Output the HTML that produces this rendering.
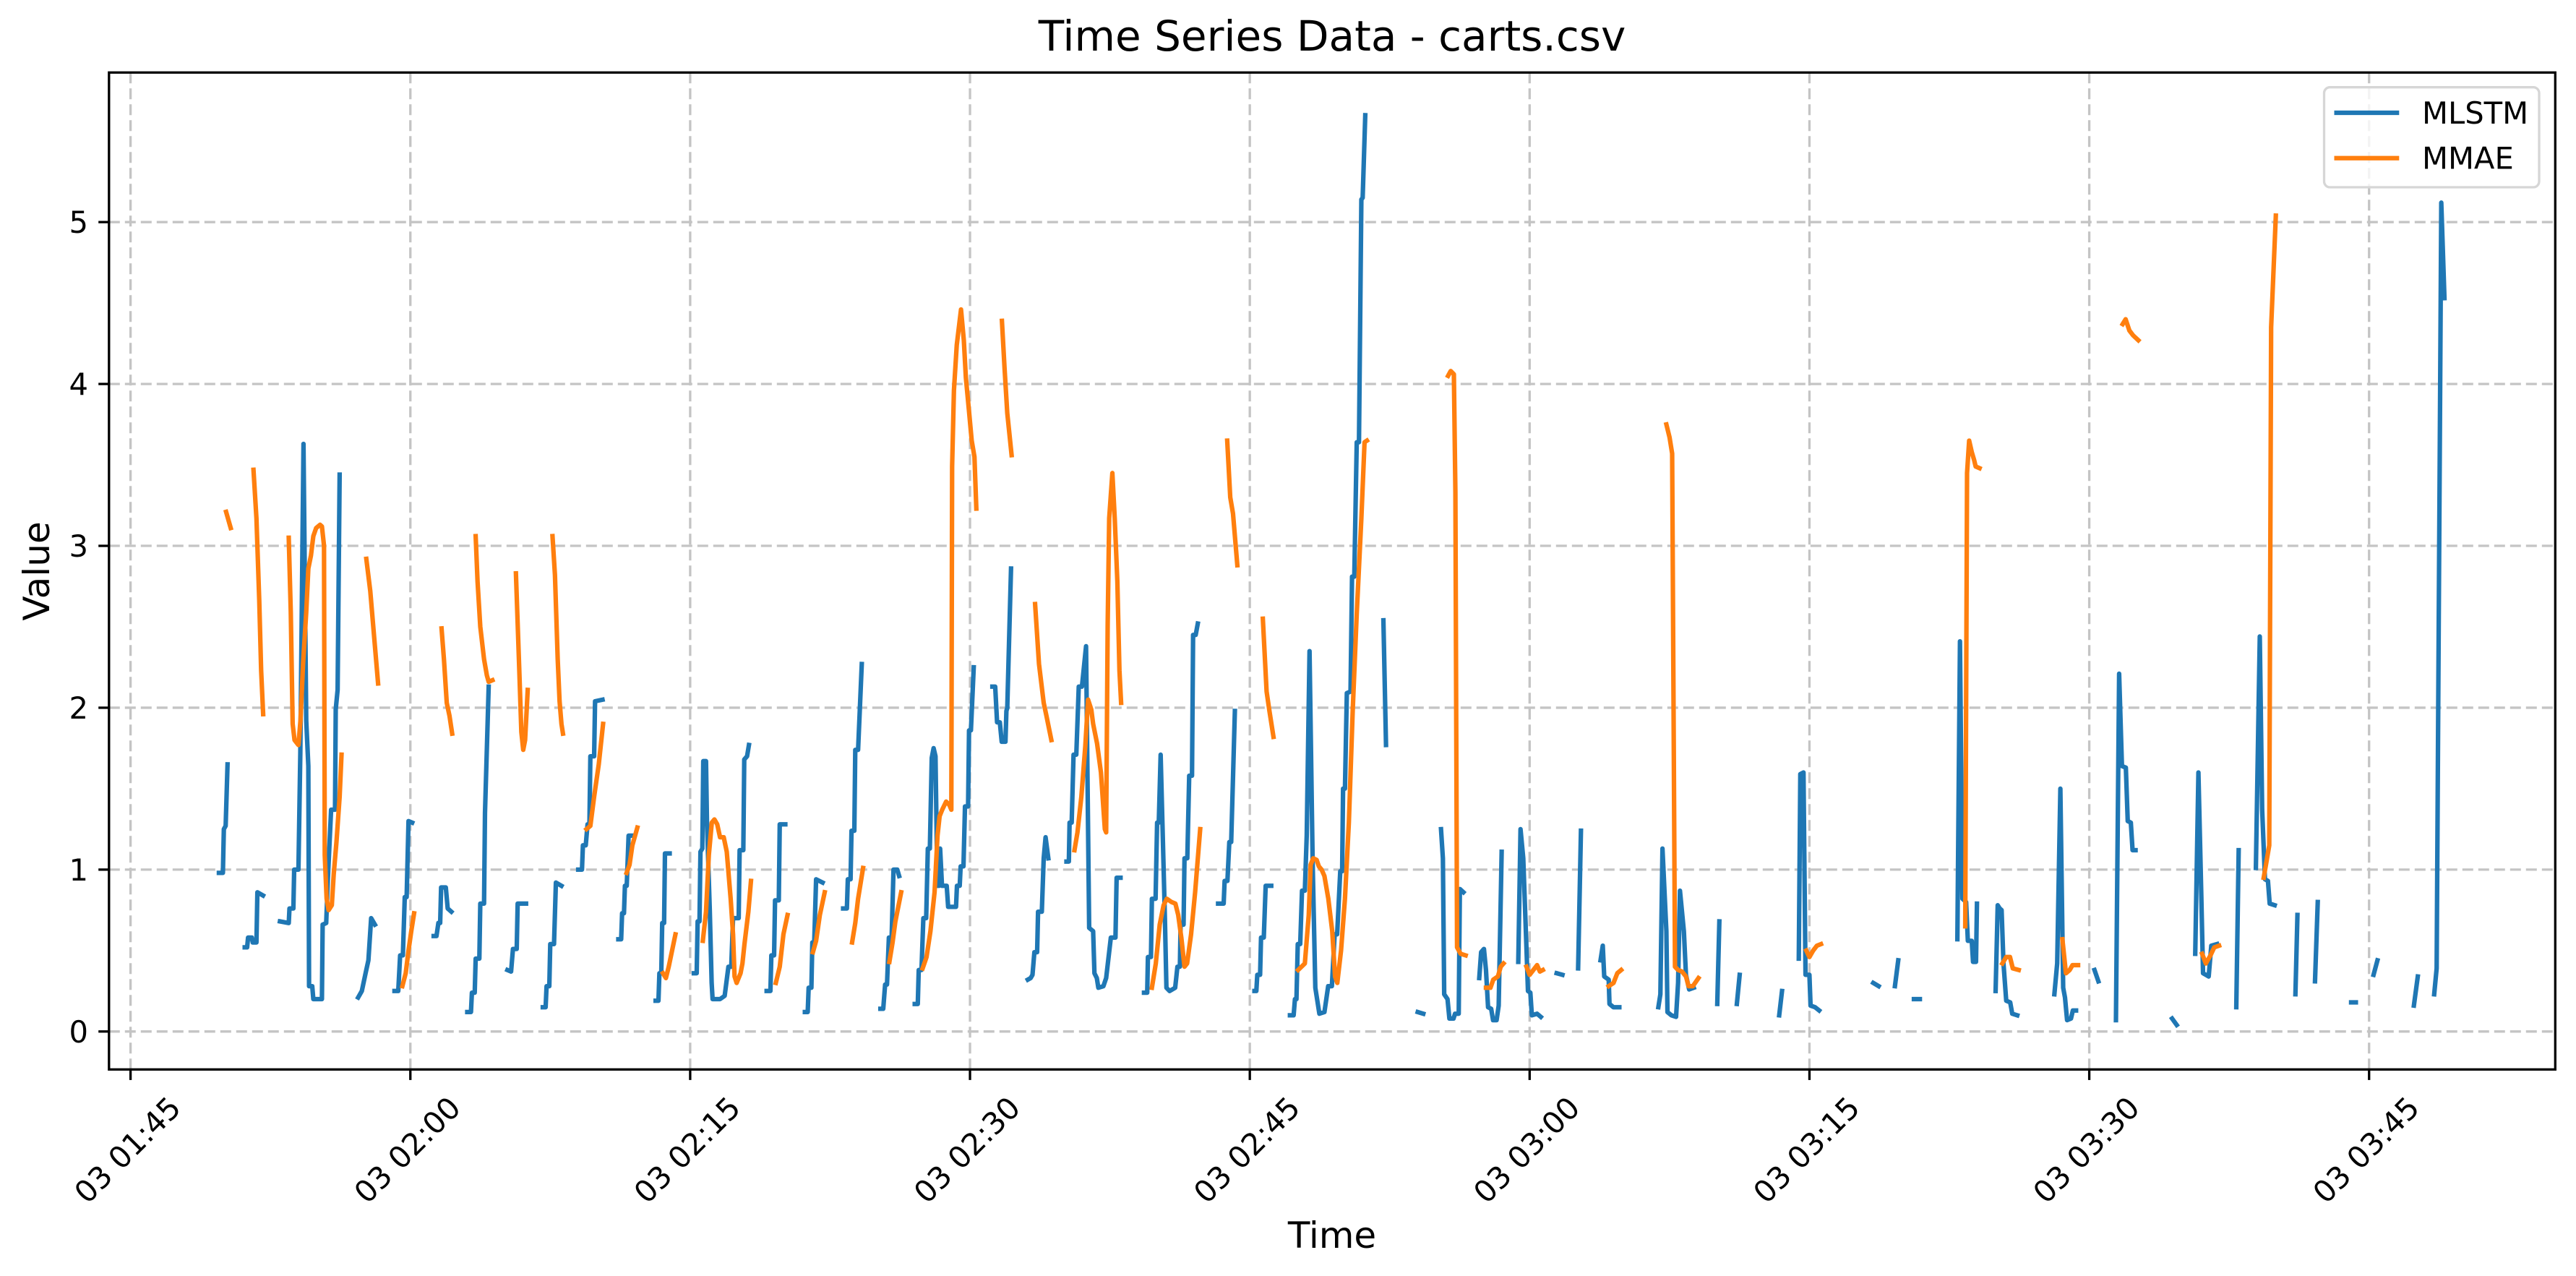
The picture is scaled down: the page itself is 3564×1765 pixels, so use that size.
<!DOCTYPE html>
<html><head><meta charset="utf-8"><style>
html,body{margin:0;padding:0;background:#fff;}
svg{display:block;font-family:"DejaVu Sans","Liberation Sans",sans-serif;}
</style></head><body>
<svg id="chart" xmlns="http://www.w3.org/2000/svg" width="3564" height="1765" viewBox="0 0 3564 1765">
<rect x="0" y="0" width="3564" height="1765" fill="#fff"/>
<g id="grid"></g>
<g id="series"></g>
<rect x="150.8" y="100.3" width="3384.5" height="1379" fill="none" stroke="#000" stroke-width="3.3"/>
<g id="axes"></g>
<text x="1843" y="70" font-size="58" text-anchor="middle">Time Series Data - carts.csv</text>
<text x="1843" y="1726" font-size="50" text-anchor="middle">Time</text>
<text x="0" y="0" font-size="50" text-anchor="middle" transform="translate(68,790) rotate(-90)">Value</text>
<g>
<rect x="3215.5" y="120.7" width="297.5" height="138.3" rx="8" fill="#fff" fill-opacity="0.8" stroke="#d6d6d6" stroke-width="3.3"/>
<line x1="3229.5" y1="156" x2="3319.3" y2="156" stroke="#1f77b4" stroke-width="6.25"/>
<text x="3351" y="171" font-size="41.7">MLSTM</text>
<line x1="3229.5" y1="218.7" x2="3319.3" y2="218.7" stroke="#ff7f0e" stroke-width="6.25"/>
<text x="3351" y="233.7" font-size="41.7">MMAE</text>
</g>
</svg>
<script>
// time in minutes since 01:45
const xTickMinutes = [0,15,30,45,60,75,90,105,120];
const xTickLabels = ["03 01:45","03 02:00","03 02:15","03 02:30","03 02:45","03 03:00","03 03:15","03 03:30","03 03:45"];
const yTickValues = [0,1,2,3,4,5];
const yTickLabels = ["0","1","2","3","4","5"];
const seriesNames = ["MLSTM","MMAE"];
const mlstmSegments = [
[[4.74,0.98],[4.95,0.98],[5.0,1.25],[5.1,1.27],[5.2,1.65]],
[[6.12,0.52],[6.25,0.52],[6.3,0.58],[6.5,0.58],[6.55,0.55],[6.75,0.55],[6.8,0.86],[7.1,0.84]],
[[8.01,0.68],[8.48,0.67],[8.52,0.76],[8.73,0.76],[8.77,1.0],[9.0,1.0],[9.1,1.72],[9.27,3.63],[9.42,1.92],[9.53,1.64],[9.57,0.28],[9.74,0.28],[9.8,0.2],[10.26,0.2],[10.3,0.66],[10.49,0.67],[10.58,0.95],[10.75,1.37],[10.96,1.37],[11.0,1.99],[11.1,2.11],[11.21,3.44]],
[[12.2,0.21],[12.4,0.25],[12.6,0.36],[12.75,0.44],[12.9,0.7],[13.1,0.66]],
[[14.15,0.25],[14.35,0.25],[14.45,0.47],[14.6,0.47],[14.7,0.83],[14.8,0.83],[14.9,1.3],[15.1,1.29]],
[[16.25,0.59],[16.4,0.59],[16.5,0.67],[16.6,0.67],[16.65,0.89],[16.9,0.89],[17.0,0.76],[17.2,0.74]],
[[18.05,0.12],[18.25,0.12],[18.3,0.24],[18.45,0.24],[18.5,0.45],[18.7,0.45],[18.75,0.79],[18.95,0.79],[19.0,1.35],[19.2,2.13]],
[[20.2,0.38],[20.4,0.37],[20.5,0.51],[20.7,0.51],[20.75,0.79],[21.2,0.79]],
[[22.1,0.15],[22.25,0.15],[22.3,0.28],[22.45,0.28],[22.5,0.54],[22.7,0.54],[22.8,0.92],[23.1,0.9]],
[[24.0,1.0],[24.2,1.0],[24.25,1.15],[24.4,1.15],[24.5,1.28],[24.6,1.28],[24.65,1.7],[24.85,1.7],[24.9,2.04],[25.3,2.05]],
[[26.15,0.57],[26.3,0.57],[26.35,0.73],[26.45,0.73],[26.5,0.9],[26.6,0.9],[26.7,1.21],[26.9,1.21]],
[[28.15,0.19],[28.3,0.19],[28.35,0.36],[28.45,0.36],[28.5,0.67],[28.6,0.67],[28.65,1.1],[28.9,1.1]],
[[30.2,0.36],[30.35,0.36],[30.4,0.68],[30.5,0.68],[30.55,1.11],[30.65,1.13],[30.7,1.67],[30.85,1.67],[30.9,1.3],[31.05,0.75],[31.15,0.3],[31.2,0.2],[31.6,0.2],[31.85,0.22],[32.05,0.4],[32.2,0.4],[32.3,0.7],[32.6,0.7],[32.65,1.12],[32.85,1.12],[32.9,1.68],[33.05,1.7],[33.15,1.77]],
[[34.1,0.25],[34.3,0.25],[34.35,0.47],[34.5,0.47],[34.55,0.81],[34.75,0.81],[34.8,1.28],[35.1,1.28]],
[[36.15,0.12],[36.3,0.12],[36.35,0.27],[36.5,0.27],[36.55,0.55],[36.65,0.55],[36.75,0.94],[37.1,0.92]],
[[38.2,0.76],[38.4,0.76],[38.45,0.94],[38.6,0.94],[38.65,1.24],[38.8,1.24],[38.85,1.74],[39.0,1.74],[39.2,2.27]],
[[40.2,0.14],[40.35,0.14],[40.45,0.29],[40.55,0.29],[40.65,0.58],[40.8,0.58],[40.9,1.0],[41.1,1.0],[41.2,0.96]],
[[42.04,0.17],[42.2,0.17],[42.25,0.38],[42.4,0.38],[42.5,0.7],[42.65,0.7],[42.74,1.13],[42.85,1.13],[42.95,1.69],[43.05,1.75],[43.15,1.7],[43.25,0.9],[43.35,0.9],[43.4,1.13],[43.5,0.9],[43.75,0.9],[43.83,0.77],[44.25,0.77],[44.3,0.9],[44.45,0.9],[44.5,1.02],[44.65,1.02],[44.73,1.39],[44.9,1.39],[44.95,1.86],[45.05,1.86],[45.2,2.25]],
[[46.2,2.13],[46.35,2.13],[46.45,1.91],[46.6,1.91],[46.7,1.79],[46.9,1.79],[46.95,1.98],[47.0,2.0],[47.2,2.86]],
[[48.1,0.32],[48.25,0.33],[48.35,0.35],[48.45,0.49],[48.6,0.49],[48.65,0.74],[48.85,0.74],[48.95,1.07],[49.05,1.2],[49.2,1.07]],
[[50.17,1.05],[50.3,1.05],[50.34,1.29],[50.45,1.29],[50.55,1.71],[50.7,1.71],[50.83,2.13],[51.0,2.13],[51.22,2.38],[51.39,0.64],[51.6,0.62],[51.67,0.36],[51.8,0.33],[51.88,0.27],[52.15,0.28],[52.3,0.33],[52.55,0.58],[52.8,0.58],[52.86,0.95],[53.07,0.95]],
[[54.33,0.24],[54.5,0.24],[54.54,0.46],[54.7,0.46],[54.75,0.82],[54.95,0.82],[55.03,1.29],[55.12,1.29],[55.22,1.71],[55.45,0.7],[55.53,0.27],[55.7,0.25],[56.0,0.27],[56.12,0.4],[56.25,0.4],[56.29,0.66],[56.45,0.66],[56.5,1.07],[56.65,1.07],[56.75,1.58],[56.9,1.58],[56.96,2.45],[57.1,2.45],[57.21,2.52]],
[[58.3,0.79],[58.6,0.79],[58.65,0.93],[58.8,0.93],[58.9,1.17],[59.0,1.17],[59.2,1.98]],
[[60.25,0.25],[60.35,0.25],[60.4,0.35],[60.55,0.35],[60.6,0.58],[60.75,0.58],[60.85,0.9],[61.15,0.9]],
[[62.15,0.1],[62.35,0.1],[62.42,0.2],[62.5,0.2],[62.57,0.54],[62.7,0.54],[62.8,0.87],[62.95,0.87],[63.05,1.21],[63.2,2.35],[63.37,1.05],[63.51,0.27],[63.73,0.11],[64.0,0.12],[64.2,0.28],[64.4,0.28],[64.55,0.6],[64.68,0.6],[64.85,0.99],[64.95,0.99],[65.0,1.5],[65.1,1.5],[65.2,2.09],[65.4,2.1],[65.48,2.81],[65.6,2.81],[65.73,3.64],[65.85,3.64],[65.98,5.14],[66.05,5.15],[66.19,5.66]],
[[67.16,2.54],[67.3,1.77]],
[[69.0,0.12],[69.3,0.11]],
[[70.25,1.25],[70.35,1.07],[70.42,0.23],[70.6,0.2],[70.7,0.08],[70.92,0.08],[71.0,0.11],[71.2,0.11],[71.26,0.88],[71.45,0.86]],
[[72.3,0.33],[72.4,0.49],[72.55,0.51],[72.66,0.38],[72.77,0.15],[72.94,0.14],[73.04,0.07],[73.23,0.07],[73.34,0.16],[73.5,1.11]],
[[74.39,0.43],[74.51,1.25],[74.66,1.07],[74.81,0.58],[74.91,0.25],[75.04,0.24],[75.12,0.1],[75.4,0.11],[75.6,0.09]],
[[76.45,0.36],[76.76,0.35]],
[[77.6,0.39],[77.75,1.24]],
[[78.8,0.44],[78.92,0.53],[79.0,0.34],[79.24,0.32],[79.28,0.17],[79.49,0.15],[79.81,0.15]],
[[81.9,0.15],[82.01,0.23],[82.12,1.13],[82.33,0.62],[82.39,0.12],[82.6,0.1],[82.85,0.09],[82.96,0.3],[83.06,0.87],[83.27,0.62],[83.38,0.35],[83.55,0.26],[83.8,0.27]],
[[85.06,0.17],[85.17,0.68]],
[[86.11,0.17],[86.26,0.35]],
[[88.38,0.1],[88.53,0.25]],
[[89.43,0.45],[89.51,1.59],[89.68,1.6],[89.79,0.35],[90.0,0.35],[90.06,0.16],[90.3,0.15],[90.52,0.13]],
[[93.42,0.3],[93.71,0.28]],
[[94.58,0.28],[94.76,0.44]],
[[95.6,0.2],[95.92,0.2]],
[[97.93,0.57],[98.07,2.41],[98.2,0.82],[98.4,0.8],[98.49,0.56],[98.7,0.56],[98.77,0.43],[98.93,0.43],[98.98,0.79]],
[[99.98,0.25],[100.09,0.78],[100.2,0.76],[100.3,0.75],[100.4,0.42],[100.55,0.19],[100.76,0.18],[100.87,0.11],[101.14,0.1]],
[[103.13,0.23],[103.28,0.42],[103.45,1.5],[103.6,0.27],[103.7,0.21],[103.81,0.07],[104.02,0.08],[104.12,0.13],[104.29,0.13]],
[[105.28,0.38],[105.49,0.31]],
[[106.43,0.07],[106.6,2.21],[106.75,1.64],[106.96,1.63],[107.06,1.3],[107.23,1.29],[107.32,1.12],[107.48,1.12]],
[[109.44,0.08],[109.69,0.04]],
[[110.68,0.48],[110.85,1.6],[111.01,0.82],[111.1,0.36],[111.4,0.34],[111.54,0.53],[111.85,0.54]],
[[112.88,0.15],[113.01,1.12]],
[[113.93,1.01],[114.14,2.44],[114.27,1.37],[114.42,0.94],[114.58,0.93],[114.67,0.79],[114.94,0.78]],
[[116.05,0.23],[116.16,0.72]],
[[117.1,0.31],[117.25,0.8]],
[[119.04,0.18],[119.29,0.18]],
[[120.24,0.35],[120.45,0.44]],
[[122.4,0.16],[122.61,0.34]],
[[123.49,0.23],[123.62,0.39],[123.87,5.12],[124.04,4.53]]
];
const mmaeSegments = [
[[5.12,3.21],[5.37,3.11]],
[[6.59,3.47],[6.75,3.17],[6.9,2.66],[7.0,2.23],[7.11,1.96]],
[[8.48,3.05],[8.59,2.59],[8.69,1.9],[8.79,1.8],[9.0,1.77],[9.11,1.92],[9.25,2.27],[9.42,2.59],[9.53,2.86],[9.67,2.94],[9.8,3.06],[9.95,3.11],[10.16,3.13],[10.26,3.12],[10.37,3.0],[10.41,1.09],[10.51,0.82],[10.62,0.75],[10.79,0.78],[10.89,0.97],[11.04,1.17],[11.21,1.45],[11.31,1.71]],
[[12.64,2.92],[12.85,2.72],[13.05,2.45],[13.27,2.15]],
[[14.57,0.28],[14.75,0.36],[14.9,0.5],[15.05,0.62],[15.2,0.73]],
[[16.67,2.49],[16.8,2.3],[16.95,2.03],[17.1,1.95],[17.24,1.84]],
[[18.5,3.06],[18.6,2.78],[18.75,2.5],[18.95,2.3],[19.1,2.2],[19.2,2.16],[19.4,2.17]],
[[20.66,2.83],[20.85,2.2],[20.95,1.85],[21.05,1.74],[21.15,1.8],[21.29,2.11]],
[[22.62,3.06],[22.75,2.82],[22.9,2.3],[23.0,2.04],[23.1,1.9],[23.18,1.84]],
[[24.44,1.25],[24.65,1.27],[24.85,1.45],[25.1,1.65],[25.33,1.9]],
[[26.59,0.98],[26.75,1.03],[26.9,1.15],[27.17,1.26]],
[[28.54,0.36],[28.7,0.33],[28.85,0.4],[29.21,0.6]],
[[30.68,0.56],[30.85,0.74],[31.0,1.09],[31.16,1.29],[31.3,1.31],[31.45,1.28],[31.6,1.2],[31.8,1.2],[31.96,1.11],[32.17,0.82],[32.3,0.6],[32.38,0.34],[32.49,0.3],[32.7,0.36],[32.8,0.42],[32.91,0.54],[33.12,0.74],[33.26,0.93]],
[[34.59,0.3],[34.8,0.4],[35.0,0.6],[35.22,0.72]],
[[36.58,0.49],[36.75,0.56],[36.95,0.72],[37.21,0.86]],
[[38.68,0.55],[38.85,0.67],[39.0,0.82],[39.27,1.01]],
[[40.68,0.43],[40.85,0.55],[41.0,0.68],[41.31,0.86]],
[[42.46,0.39],[42.67,0.46],[42.88,0.62],[43.1,0.86],[43.26,1.21],[43.37,1.33],[43.51,1.37],[43.72,1.42],[43.89,1.4],[44.0,1.37],[44.04,3.49],[44.14,3.96],[44.29,4.24],[44.52,4.46],[44.67,4.27],[44.78,4.04],[44.94,3.84],[45.09,3.65],[45.24,3.55],[45.34,3.23]],
[[46.71,4.39],[46.85,4.1],[47.0,3.82],[47.23,3.56]],
[[48.49,2.64],[48.7,2.27],[48.95,2.03],[49.1,1.95],[49.36,1.8]],
[[50.6,1.12],[50.76,1.23],[50.97,1.45],[51.18,1.76],[51.33,2.05],[51.5,1.99],[51.6,1.9],[51.81,1.78],[52.02,1.6],[52.23,1.25],[52.3,1.23],[52.38,2.51],[52.46,3.17],[52.63,3.45],[52.76,3.17],[52.9,2.78],[53.01,2.23],[53.1,2.03]],
[[54.75,0.27],[54.96,0.42],[55.17,0.66],[55.38,0.78],[55.55,0.82],[55.8,0.8],[56.01,0.79],[56.16,0.72],[56.33,0.58],[56.5,0.4],[56.64,0.42],[56.85,0.6],[57.07,0.86],[57.34,1.25]],
[[58.79,3.65],[58.95,3.3],[59.1,3.2],[59.33,2.88]],
[[60.7,2.55],[60.9,2.1],[61.05,1.98],[61.27,1.82]],
[[62.59,0.38],[62.95,0.42],[63.16,0.72],[63.26,1.03],[63.4,1.07],[63.58,1.06],[63.7,1.02],[63.85,1.0],[64.0,0.96],[64.21,0.82],[64.42,0.62],[64.57,0.34],[64.69,0.3],[64.89,0.5],[65.1,0.82],[65.31,1.29],[65.52,1.99],[65.73,2.58],[65.98,3.17],[66.15,3.64],[66.28,3.65]],
[[70.63,4.05],[70.77,4.08],[70.94,4.06],[71.02,3.33],[71.11,0.52],[71.3,0.48],[71.57,0.47]],
[[72.66,0.27],[72.9,0.27],[73.05,0.32],[73.3,0.34],[73.45,0.4],[73.6,0.42]],
[[74.83,0.4],[75.0,0.35],[75.2,0.38],[75.4,0.41],[75.55,0.37],[75.71,0.38]],
[[79.24,0.28],[79.5,0.3],[79.7,0.36],[79.91,0.38]],
[[82.33,3.75],[82.5,3.67],[82.64,3.57],[82.79,0.4],[82.96,0.38],[83.17,0.37],[83.38,0.34],[83.52,0.28],[83.75,0.28],[84.05,0.33]],
[[89.83,0.5],[90.0,0.46],[90.2,0.5],[90.4,0.53],[90.62,0.54]],
[[98.35,0.65],[98.45,3.45],[98.56,3.65],[98.7,3.58],[98.83,3.53],[98.91,3.49],[99.12,3.48]],
[[100.34,0.42],[100.55,0.46],[100.75,0.46],[100.9,0.39],[101.22,0.38]],
[[103.56,0.57],[103.75,0.36],[103.95,0.38],[104.1,0.41],[104.4,0.41]],
[[106.79,4.37],[106.95,4.4],[107.15,4.33],[107.35,4.3],[107.63,4.27]],
[[111.05,0.48],[111.25,0.42],[111.5,0.47],[111.7,0.52],[111.96,0.53]],
[[114.35,0.95],[114.5,1.05],[114.65,1.15],[114.75,4.35],[115.0,5.04]]
];

const NS = "http://www.w3.org/2000/svg";
const PX0 = 150.8, PX1 = 3535.3, PY0 = 100.3, PY1 = 1479.3;
const XMIN = -1.155, XMAX = 129.98, YMIN = -0.2345, YMAX = 5.924;
function xs(m){ return PX0 + (m - XMIN) / (XMAX - XMIN) * (PX1 - PX0); }
function ys(v){ return PY1 - (v - YMIN) / (YMAX - YMIN) * (PY1 - PY0); }
function mk(tag, attrs){ const e = document.createElementNS(NS, tag); for (const k in attrs) e.setAttribute(k, attrs[k]); return e; }

const grid = document.getElementById('grid');
const axes = document.getElementById('axes');
const series = document.getElementById('series');

xTickMinutes.forEach((m, i) => {
  const x = xs(m);
  const g = mk('line', {x1: x, y1: PY0, x2: x, y2: PY1, stroke: '#c4c4c4', 'stroke-width': 3.3, 'stroke-dasharray': '15 7'});
  
  
  grid.appendChild(g);
  const t = mk('line', {x1: x, y1: PY1, x2: x, y2: PY1 + 14.6, stroke: '#000', 'stroke-width': 3.3});
  
  
  axes.appendChild(t);
  const lab = mk('text', {x: 0, y: 0, 'font-size': 41.7, 'text-anchor': 'end', transform: 'translate(' + (x + 72) + ',1535) rotate(-45)'});
  lab.textContent = xTickLabels[i];
  
  
  axes.appendChild(lab);
});
yTickValues.forEach((v, i) => {
  const y = ys(v);
  const g = mk('line', {x1: PX0, y1: y, x2: PX1, y2: y, stroke: '#c4c4c4', 'stroke-width': 3.3, 'stroke-dasharray': '15 7'});
  
  
  grid.appendChild(g);
  const t = mk('line', {x1: PX0 - 14.6, y1: y, x2: PX0, y2: y, stroke: '#000', 'stroke-width': 3.3});
  
  
  axes.appendChild(t);
  const lab = mk('text', {x: 122, y: y + 15, 'font-size': 41.7, 'text-anchor': 'end'});
  lab.textContent = yTickLabels[i];
  
  
  axes.appendChild(lab);
});

function drawSeries(segs, color, name){
  segs.forEach(seg => {
    const d = seg.map((p, j) => (j ? 'L' : 'M') + xs(p[0]).toFixed(1) + ' ' + ys(p[1]).toFixed(1)).join(' ');
    const path = mk('path', {d: d, fill: 'none', stroke: color, 'stroke-width': 6.25, 'stroke-linejoin': 'round', 'stroke-linecap': 'square'});
    
    
    series.appendChild(path);
  });
}
drawSeries(mlstmSegments, '#1f77b4', 'mlstm-line-segment');
drawSeries(mmaeSegments, '#ff7f0e', 'mmae-line-segment');
</script>
</body></html>
